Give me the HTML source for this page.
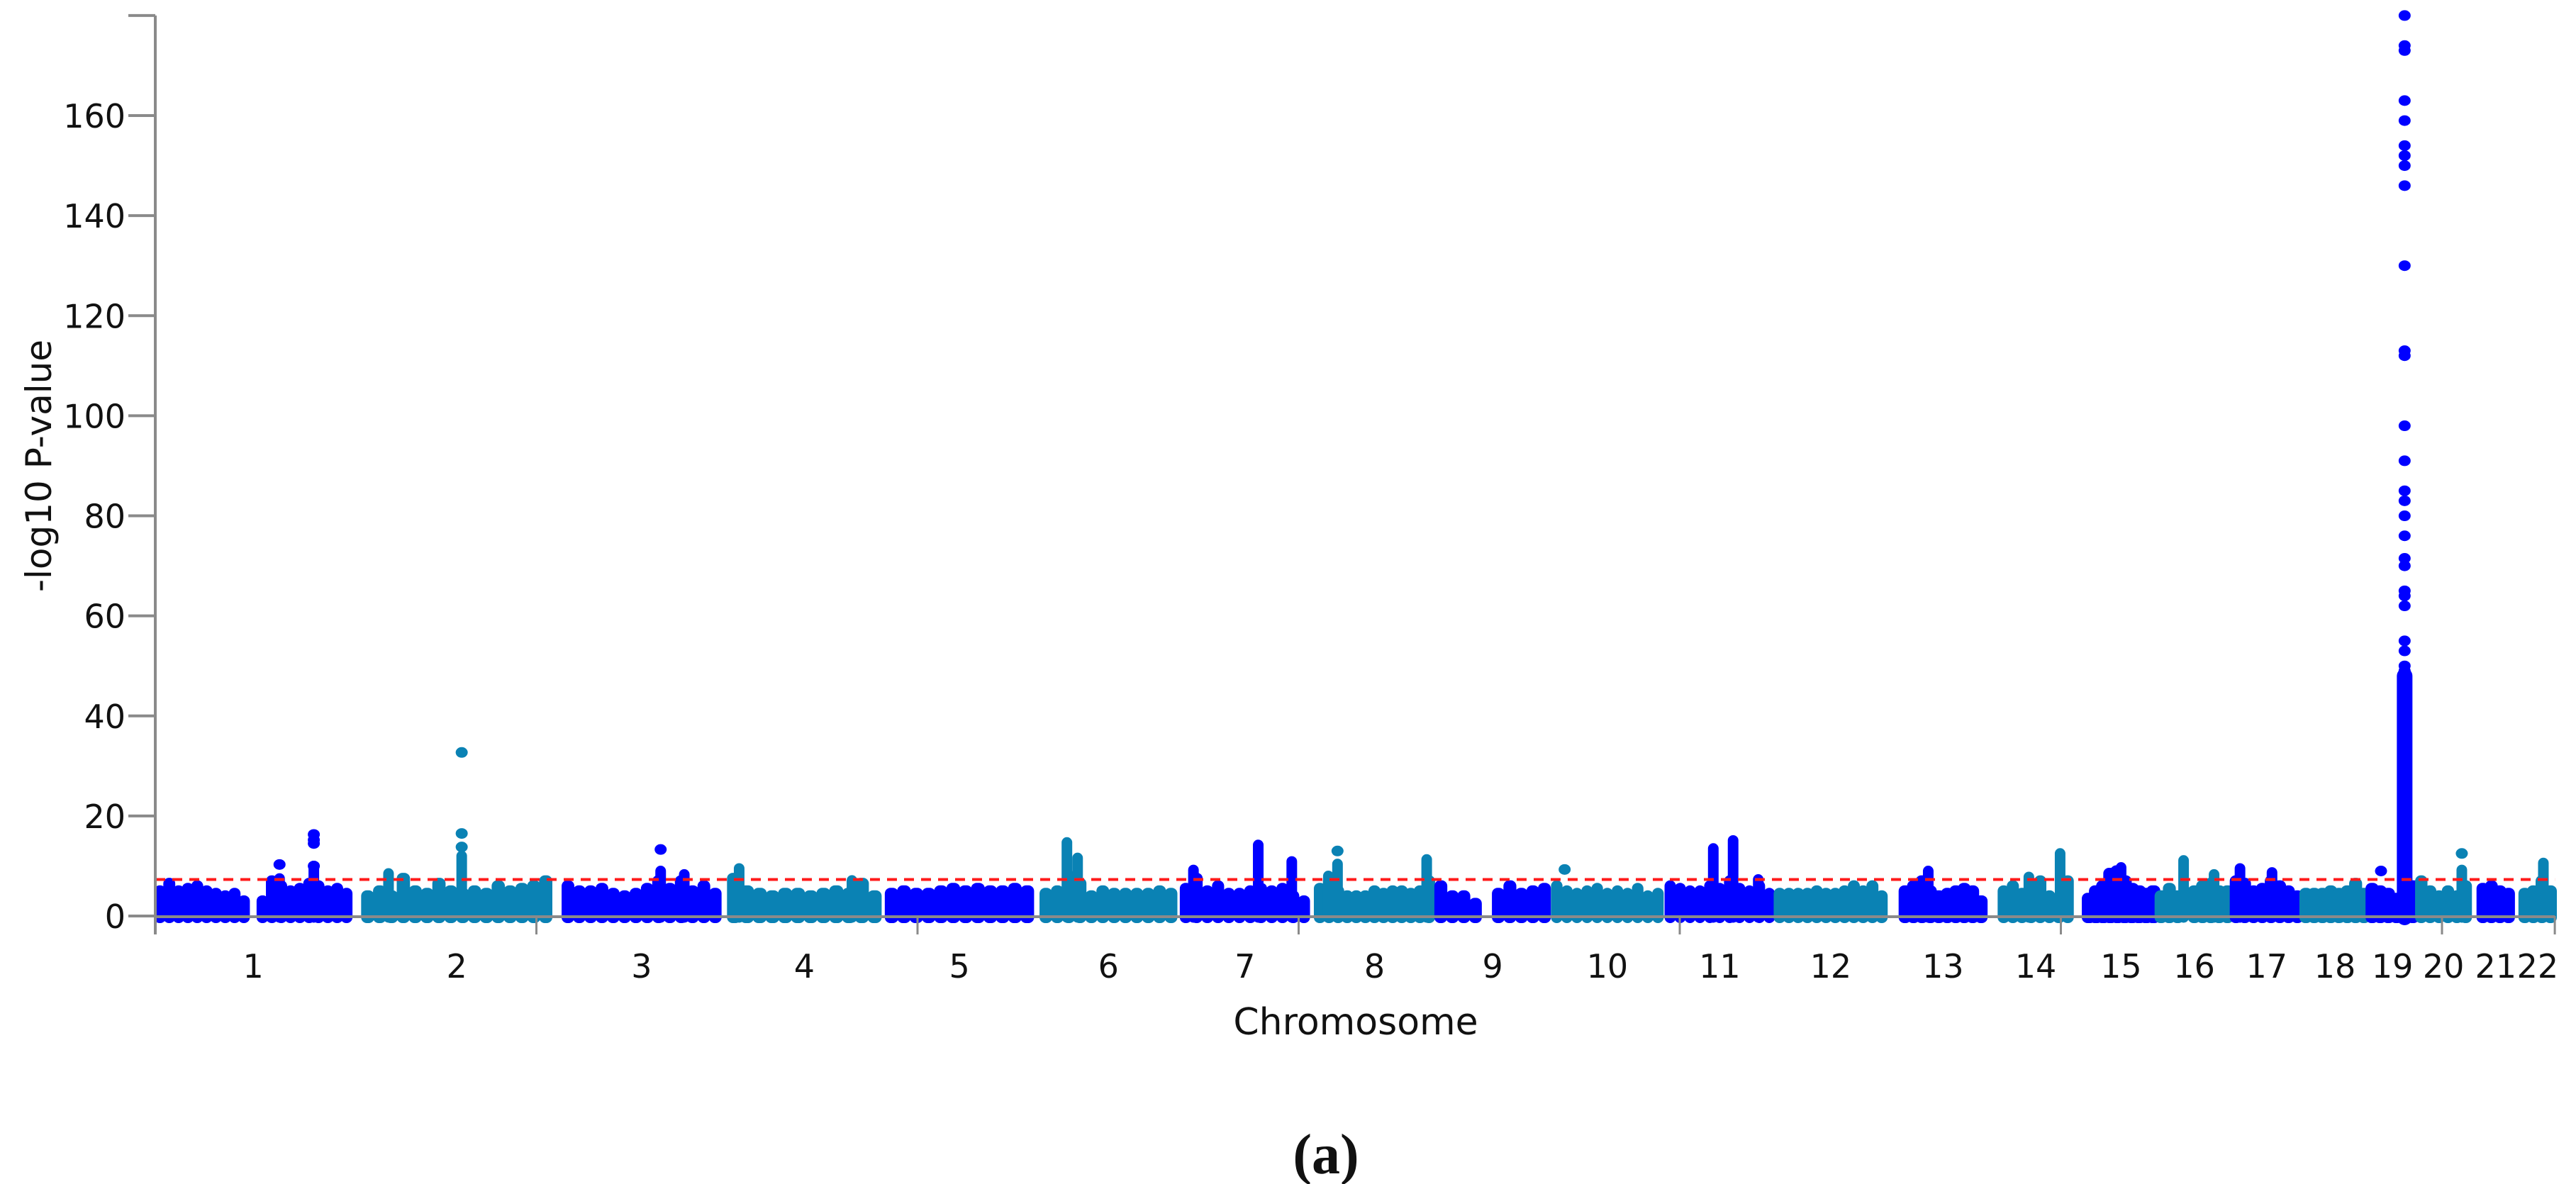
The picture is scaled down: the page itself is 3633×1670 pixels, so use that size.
<!DOCTYPE html>
<html><head><meta charset="utf-8"><style>
html,body{margin:0;padding:0;background:#fff;}
svg{display:block;}
</style></head><body>
<svg id="chart" width="3633" height="1670" viewBox="0 0 3633 1670" xmlns="http://www.w3.org/2000/svg">
<g id="marks"></g>
<g id="axes"></g>
<text x="1912" y="1459" text-anchor="middle" font-family="DejaVu Sans, Liberation Sans, sans-serif" font-size="52" fill="#111">Chromosome</text>
<text transform="translate(72,657) rotate(-90)" text-anchor="middle" font-family="DejaVu Sans, Liberation Sans, sans-serif" font-size="50" fill="#111">-log10 P-value</text>
<text x="1870" y="1655" text-anchor="middle" font-family="Liberation Serif, serif" font-size="80" font-weight="bold" fill="#111">(a)</text>
</svg>
<script>
const chromNames = ["1","2","3","4","5","6","7","8","9","10","11","12","13","14","15","16","17","18","19","20","21","22"];
const chromStart = [0,271,534,751,958,1161,1345,1522,1679,1832,1981,2125,2290,2419,2532,2626,2724,2816,2903,2967,3048,3103];
const chromEnd = [257,520,742,952,1152,1340,1514,1677,1830,1978,2124,2271,2401,2515,2626,2724,2816,2903,2967,3037,3093,3148];
const bgProfiles = [
 [5,6.5,5,5.5,6,5,4.5,4,4.5,3,0,3,7,6,5,5.5,6.5,6,5,5.5,4.5],
 [4,5,4,7.5,5,4.5,6.5,5,4.5,5,4.5,6,5,5.5,6,7],
 [6,5,5,5.5,4.5,4,4.5,5.5,7,5.5,7,5,6,4.5],
 [7.5,5,4.5,4,4.5,4.5,4,4.5,5,4.5,6.5,4],
 [4.5,5,4.5,4.5,5,5.5,5,5.5,5,5,5.5,5],
 [4.5,5,8,6.5,4,5,4.5,4.5,4.5,4.5,5,4.5],
 [5.5,7.5,5,6,4.5,4.5,5,5.5,5,5.5,4,3],
 [5.5,7,5,4,4,4,5,4.5,5,5,4.5,5,7],
 [6,4,4,2.5,0,4.5,6,4.5,5,5.5],
 [6,5,4.5,5,5.5,4.5,5,4.5,5.5,4,4.5],
 [6,5.5,5,5,6,5.5,7,5.5,5,6,4.5],
 [4.5,4.5,4.5,4.5,5,4.5,4.5,5,6,5,6,4],
 [5,6,7,5,4,4.5,5,5.5,5,3],
 [5,6,4.5,6,7,4,3.5,7],
 [3.5,5,6,8.5,9,7,5.5,5,4.5,5],
 [4,5.5,4,0,5,6,6.5,5,5],
 [7,6.5,5,5.5,7,6,5,4],
 [4.5,4.5,4.5,5,4.5,5,6.5,4.5],
 [5.5,5,4.5,3.5,5,6],
 [7,5,4,5,4,6],
 [5.5,6,5,4.5],
 [4.5,5,7,5]
];
const peakPos = [163,208,306,402,663,694,766,914,1196,1210,1362,1447,1491,1539,1551,1668,2044,2070,2103,2326,2458,2499,2579,2661,2701,2735,2777,3026,3133,2951];
const peakTop = [7.5,10,8.5,12,9,8.3,9.5,7.1,14.7,11.6,9.2,14.2,10.9,8,10.4,11.3,13.5,15.1,7.3,9,7.8,12.5,9.7,11.1,8.3,9.5,8.7,9.2,10.6,48];
const dotPos = [163,208,208,208,208,402,402,402,663,1551,1849,2920,3026,
 2951,2951,2951,2951,2951,2951,2951,2951,2951,2951,2951,2951,2951,2951,2951,2951,2951,2951,2951,2951,2951,2951,2951,2951,2951,2951,2951];
const dotVal = [10.3,16.3,15.2,14.5,10,32.7,16.5,13.8,13.3,13,9.3,9,12.5,
 180,174,173,163,159,154,152,150,146,130,113,112,98,91,85,83,80,76,71.5,70,65,64,62,55,53,50,49];
const yTicks = [0,20,40,60,80,100,120,140,160];
const xTicks = [0,500,1000,1500,2000,2500,3000,3148];
const threshold = 7.3;

const NS = "http://www.w3.org/2000/svg";
const X0 = 219, PXMB = 1.075, Y0 = 1292, PXV = 7.056, YMAX = 180;
const xs = mb => X0 + mb * PXMB;
const ys = v => Y0 - v * PXV;
const colors = ["#0000ff", "#0a82b4"];
const marks = document.getElementById("marks");
const axes = document.getElementById("axes");
function mk(tag, attrs, parent) {
  const e = document.createElementNS(NS, tag);
  for (const k in attrs) e.setAttribute(k, attrs[k]);
  parent.appendChild(e);
  return e;
}
function chromOf(mb) {
  for (let i = 0; i < chromStart.length; i++) if (mb >= chromStart[i] && mb <= chromEnd[i]) return i;
  return 0;
}
for (let c = 0; c < chromNames.length; c++) {
  const prof = bgProfiles[c];
  const span = chromEnd[c] - chromStart[c];
  const step = span / prof.length;
  const g = mk("g", {}, marks);
  
  
  const col = colors[c % 2];
  for (let i = 0; i < prof.length; i++) {
    if (prof[i] <= 0) continue;
    const x1 = xs(chromStart[c] + i * step) + 7, x2 = xs(chromStart[c] + (i + 1) * step) - 7;
    const top = ys(prof[i]);
    const p = mk("path", {
      d: "M" + x1 + "," + (Y0 + 2) + " L" + x1 + "," + top + " L" + x2 + "," + top + " L" + x2 + "," + (Y0 + 2) + " Z",
      fill: col, stroke: col, "stroke-width": 16, "stroke-linejoin": "round"
    }, g);
    
    
  }
}
for (let i = 0; i < peakPos.length; i++) {
  const c = chromOf(peakPos[i]);
  const col = colors[c % 2];
  const x = xs(peakPos[i]);
  const l = mk("line", {x1: x, x2: x, y1: Y0 + 2, y2: ys(peakTop[i]), stroke: col, "stroke-width": (peakTop[i] > 30 ? 22 : 15), "stroke-linecap": "round"}, marks);
  
  
}
for (let i = 0; i < dotPos.length; i++) {
  const c = chromOf(dotPos[i]);
  const col = colors[c % 2];
  const d = mk("ellipse", {cx: xs(dotPos[i]), cy: ys(dotVal[i]), rx: 8.5, ry: 7.5, fill: col}, marks);
  
  
}
const th = mk("line", {x1: X0, x2: xs(3148), y1: ys(threshold), y2: ys(threshold), stroke: "#ff1a1a", "stroke-width": 4, "stroke-dasharray": "14 10"}, marks);


const ya = mk("line", {x1: X0, x2: X0, y1: ys(YMAX) , y2: Y0 + 26, stroke: "#8a8a8a", "stroke-width": 4}, axes);


const xa = mk("line", {x1: X0, x2: xs(3148), y1: Y0 + 1, y2: Y0 + 1, stroke: "#8a8a8a", "stroke-width": 4}, axes);


const yt0 = mk("line", {x1: X0 - 38, x2: X0, y1: ys(YMAX), y2: ys(YMAX), stroke: "#8a8a8a", "stroke-width": 4}, axes);


for (const v of yTicks) {
  const t = mk("line", {x1: X0 - 38, x2: X0, y1: ys(v), y2: ys(v), stroke: "#8a8a8a", "stroke-width": 4}, axes);
  
  
  const lb = mk("text", {x: X0 - 42, y: ys(v) + 17, "text-anchor": "end", "font-family": "DejaVu Sans, Liberation Sans, sans-serif", "font-size": 46, fill: "#111"}, axes);
  lb.textContent = String(v);
  
  
}
for (const m of xTicks) {
  const t = mk("line", {x1: xs(m), x2: xs(m), y1: Y0, y2: Y0 + 26, stroke: "#8a8a8a", "stroke-width": 3}, axes);
  
  
}
for (let c = 0; c < chromNames.length; c++) {
  const lb = mk("text", {x: xs((chromStart[c] + chromEnd[c]) / 2), y: 1379, "text-anchor": "middle", "font-family": "DejaVu Sans, Liberation Sans, sans-serif", "font-size": 46, fill: "#111"}, axes);
  lb.textContent = chromNames[c];
  
  
}
</script>
</body></html>
